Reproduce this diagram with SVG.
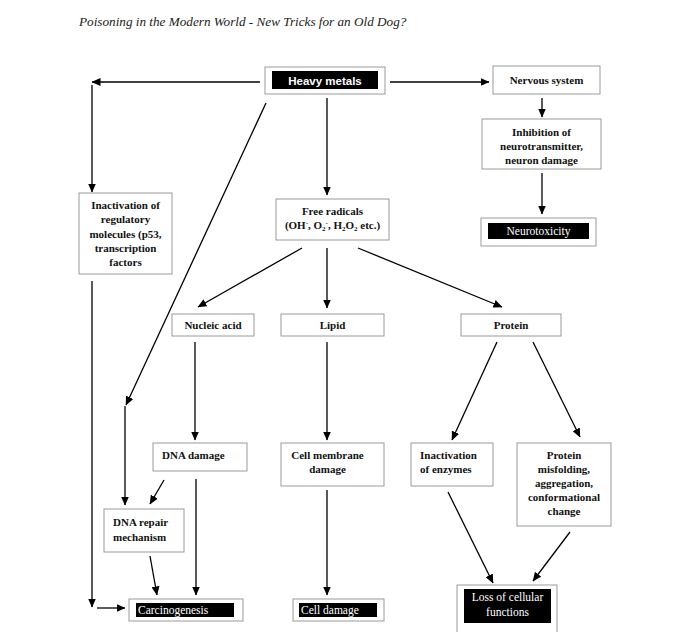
<svg xmlns="http://www.w3.org/2000/svg" width="700" height="632" viewBox="0 0 700 632">
<defs>
<marker id="ah" markerUnits="userSpaceOnUse" markerWidth="9" markerHeight="8" refX="8.5" refY="4" orient="auto">
<path d="M0,0 L9,4 L0,8 z" fill="#000"/>
</marker>
<style>
.box{fill:#fff;stroke:#9a9a9a;stroke-width:1}
.blk{fill:#000}
.t{font-family:"Liberation Serif","Times New Roman",serif;font-weight:bold;font-size:11px;fill:#111;text-anchor:middle}
.ts{text-anchor:start}
.w{font-family:"Liberation Serif","Times New Roman",serif;font-size:11.5px;fill:#fff}
.c{fill:none;stroke:#000;stroke-width:1.3;marker-end:url(#ah)}
.n{fill:none;stroke:#000;stroke-width:1.3}
</style>
</defs>
<rect width="700" height="632" fill="#fff"/>
<text x="79" y="26" font-family="Liberation Serif, serif" font-style="italic" font-size="13.2" fill="#222">Poisoning in the Modern World - New Tricks for an Old Dog?</text>

<g id="connectors">
<path class="c" d="M260,82 H92"/>
<path class="c" d="M92,85 V192"/>
<path class="c" d="M390,82 H489"/>
<path class="c" d="M327,98 V195"/>
<path class="c" d="M266,103 L126,405"/>
<path class="c" d="M125,406 V505"/>
<path class="c" d="M542,98 V117"/>
<path class="c" d="M542,173 V214"/>
<path class="c" d="M302,248 L198,307"/>
<path class="c" d="M327,248 V308"/>
<path class="c" d="M358,248 L502,307"/>
<path class="c" d="M195,342 V440"/>
<path class="c" d="M327,342 V440"/>
<path class="c" d="M497,342 L452,440"/>
<path class="c" d="M533,342 L580,437"/>
<path class="c" d="M164,480 L150,504"/>
<path class="c" d="M196,479 V595"/>
<path class="c" d="M150,556 L157,595"/>
<path class="c" d="M327,490 V595"/>
<path class="c" d="M448,492 L493,583"/>
<path class="c" d="M570,532 L533,581"/>
<path class="c" d="M92,281 V607"/>
<path class="c" d="M97,608 H125"/>
</g>

<g id="heavy-metals">
<rect class="box" x="265" y="67" width="120" height="27"/>
<rect class="blk" x="272" y="71" width="106" height="18"/>
<text x="325" y="84.5" font-family="Liberation Sans, Arial, sans-serif" font-weight="bold" font-size="11.5" fill="#fff" text-anchor="middle">Heavy metals</text>
</g>

<g id="nervous-system">
<rect class="box" x="493" y="66" width="107" height="28"/>
<text class="t" x="546.5" y="83.5">Nervous system</text>
</g>

<g id="inhibition">
<rect class="box" x="482" y="119" width="119" height="50"/>
<text class="t" x="541.5" y="136">Inhibition of</text>
<text class="t" x="541.5" y="150">neurotransmitter,</text>
<text class="t" x="541.5" y="164">neuron damage</text>
</g>

<g id="neurotoxicity">
<rect class="box" x="481" y="218" width="115" height="28"/>
<rect class="blk" x="488" y="223" width="101" height="16"/>
<text class="w" x="538.5" y="235" text-anchor="middle">Neurotoxicity</text>
</g>

<g id="inactivation-regulatory">
<rect class="box" x="79" y="193" width="93" height="81"/>
<text class="t" x="125.5" y="209">Inactivation of</text>
<text class="t" x="125.5" y="223">regulatory</text>
<text class="t" x="125.5" y="237.5">molecules (p53,</text>
<text class="t" x="125.5" y="252">transcription</text>
<text class="t" x="125.5" y="266">factors</text>
</g>

<g id="free-radicals">
<rect class="box" x="276" y="199" width="113" height="41"/>
<text class="t" x="332.5" y="215">Free radicals</text>
<text class="t" x="332.5" y="229" font-size="10.5">(OH<tspan dy="-4" font-size="7">-</tspan><tspan dy="4">, O</tspan><tspan dy="2" font-size="7">2</tspan><tspan dy="-6" font-size="7">-</tspan><tspan dy="4">, H</tspan><tspan dy="2" font-size="7">2</tspan><tspan dy="-2">O</tspan><tspan dy="2" font-size="7">2</tspan><tspan dy="-2"> etc.)</tspan></text>
</g>

<g id="nucleic-acid">
<rect class="box" x="172" y="314" width="82" height="22"/>
<text class="t" x="213" y="329">Nucleic acid</text>
</g>

<g id="lipid">
<rect class="box" x="281" y="314" width="103" height="22"/>
<text class="t" x="332.5" y="329">Lipid</text>
</g>

<g id="protein">
<rect class="box" x="461" y="314" width="100" height="22"/>
<text class="t" x="511" y="329">Protein</text>
</g>

<g id="dna-damage">
<rect class="box" x="153" y="443" width="94" height="28"/>
<text class="t ts" x="162" y="459">DNA damage</text>
</g>

<g id="cell-membrane-damage">
<rect class="box" x="281" y="443" width="103" height="43"/>
<text class="t" x="327.5" y="459">Cell membrane</text>
<text class="t" x="327.5" y="473">damage</text>
</g>

<g id="inactivation-enzymes">
<rect class="box" x="411" y="443" width="82" height="43"/>
<text class="t ts" x="420" y="459">Inactivation</text>
<text class="t ts" x="420" y="473">of enzymes</text>
</g>

<g id="protein-misfolding">
<rect class="box" x="517" y="443" width="94" height="83"/>
<text class="t" x="564" y="459">Protein</text>
<text class="t" x="564" y="473">misfolding,</text>
<text class="t" x="564" y="487">aggregation,</text>
<text class="t" x="564" y="501">conformational</text>
<text class="t" x="564" y="515">change</text>
</g>

<g id="dna-repair">
<rect class="box" x="104" y="509" width="80" height="43"/>
<text class="t ts" x="113" y="526">DNA repair</text>
<text class="t ts" x="113" y="541">mechanism</text>
</g>

<g id="carcinogenesis">
<rect class="box" x="129" y="599" width="114" height="22"/>
<rect class="blk" x="136" y="603" width="98" height="14"/>
<text class="w" x="138" y="614">Carcinogenesis</text>
</g>

<g id="cell-damage">
<rect class="box" x="293" y="599" width="91" height="22"/>
<rect class="blk" x="299" y="603" width="78" height="14"/>
<text class="w" x="301" y="614">Cell damage</text>
</g>

<g id="loss-cellular">
<rect class="box" x="457" y="585" width="100" height="50"/>
<rect class="blk" x="464" y="589" width="87" height="34"/>
<text class="w" x="507.5" y="601" text-anchor="middle">Loss of cellular</text>
<text class="w" x="507.5" y="616" text-anchor="middle">functions</text>
</g>
</svg>
